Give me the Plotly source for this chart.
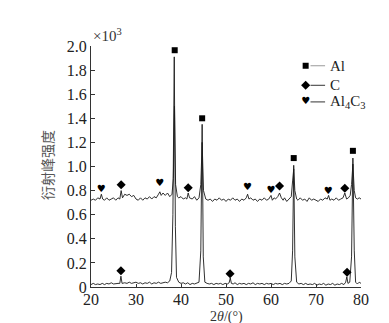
import plotly.graph_objects as go

# ---------------- data (intensity in units of 10^3) ----------------
two_theta_top = [20.0, 20.5, 21.0, 21.5, 22.0, 22.3, 22.6, 23.0, 23.5, 24.0, 24.5, 25.0, 25.5, 26.0, 26.4, 26.7, 27.0,
                 27.5, 28.0, 28.5, 29.0, 29.5, 30.0, 30.5, 31.0, 31.5, 32.0, 32.5, 33.0, 33.5, 34.0, 34.5, 35.0, 35.3,
                 35.6, 36.0, 36.5, 37.0, 37.5, 38.0, 38.3, 38.55, 38.8, 39.2, 39.5, 40.0, 40.5, 41.0, 41.3, 41.6, 41.9,
                 42.5, 43.0, 43.5, 44.0, 44.4, 44.7, 45.0, 45.5, 46.0, 46.5, 47.0, 47.5, 48.0, 48.5, 49.0, 49.5, 50.0,
                 50.5, 51.0, 51.5, 52.0, 52.5, 53.0, 53.5, 54.0, 54.5, 54.8, 55.1, 55.5, 56.0, 56.5, 57.0, 57.5, 58.0,
                 58.5, 59.0, 59.5, 60.0, 60.3, 60.7, 61.0, 61.5, 61.9, 62.3, 62.7, 63.0, 63.5, 64.0, 64.5, 64.8, 65.05,
                 65.3, 65.7, 66.0, 66.5, 67.0, 67.5, 68.0, 68.5, 69.0, 69.5, 70.0, 70.5, 71.0, 71.5, 72.0, 72.5, 72.8,
                 73.1, 73.5, 74.0, 74.5, 75.0, 75.5, 76.0, 76.4, 76.8, 77.2, 77.6, 77.9, 78.2, 78.5, 78.8, 79.2, 79.6,
                 80.0]
intensity_top = [0.72, 0.73, 0.72, 0.74, 0.73, 0.77, 0.73, 0.72, 0.74, 0.72, 0.73, 0.74, 0.72, 0.74, 0.73, 0.80, 0.74,
                 0.77, 0.76, 0.77, 0.75, 0.76, 0.73, 0.72, 0.74, 0.72, 0.74, 0.73, 0.75, 0.73, 0.75, 0.74, 0.77, 0.79,
                 0.76, 0.78, 0.76, 0.78, 0.75, 0.77, 0.90, 1.50, 0.85, 0.75, 0.74, 0.75, 0.73, 0.74, 0.73, 0.78, 0.74,
                 0.73, 0.75, 0.72, 0.74, 0.85, 1.20, 0.80, 0.73, 0.72, 0.73, 0.71, 0.73, 0.72, 0.74, 0.72, 0.73, 0.71,
                 0.73, 0.72, 0.74, 0.72, 0.73, 0.71, 0.73, 0.72, 0.74, 0.77, 0.73, 0.74, 0.72, 0.73, 0.71, 0.73, 0.72,
                 0.74, 0.72, 0.73, 0.76, 0.72, 0.74, 0.73, 0.75, 0.78, 0.74, 0.72, 0.74, 0.71, 0.73, 0.75, 0.88, 0.98,
                 0.80, 0.73, 0.72, 0.74, 0.72, 0.73, 0.71, 0.74, 0.72, 0.73, 0.72, 0.71, 0.73, 0.72, 0.74, 0.73, 0.76,
                 0.72, 0.73, 0.72, 0.74, 0.72, 0.73, 0.74, 0.78, 0.73, 0.74, 0.76, 0.85, 1.02, 0.80, 0.74, 0.73, 0.74,
                 0.73]

two_theta_bottom = [20.0, 20.5, 21.0, 21.5, 22.0, 22.5, 23.0, 23.5, 24.0, 24.5, 25.0, 25.5, 26.0, 26.4, 26.65, 26.9,
                    27.5, 28.0, 28.5, 29.0, 29.5, 30.0, 30.5, 31.0, 31.5, 32.0, 32.5, 33.0, 33.5, 34.0, 34.5, 35.0,
                    35.5, 36.0, 36.5, 37.0, 37.5, 37.9, 38.2, 38.5, 38.75, 39.0, 39.5, 40.0, 40.5, 41.0, 41.5, 42.0,
                    42.5, 43.0, 43.5, 44.0, 44.4, 44.7, 44.95, 45.3, 45.8, 46.3, 46.8, 47.3, 47.8, 48.3, 48.8, 49.3,
                    49.8, 50.3, 50.7, 50.95, 51.2, 51.6, 52.0, 52.5, 53.0, 53.5, 54.0, 54.5, 55.0, 55.5, 56.0, 56.5,
                    57.0, 57.5, 58.0, 58.5, 59.0, 59.5, 60.0, 60.5, 61.0, 61.5, 62.0, 62.5, 63.0, 63.5, 64.0, 64.5,
                    64.8, 65.05, 65.3, 65.7, 66.2, 66.7, 67.2, 67.7, 68.2, 68.7, 69.2, 69.7, 70.2, 70.7, 71.2, 71.7,
                    72.2, 72.7, 73.2, 73.7, 74.2, 74.7, 75.2, 75.7, 76.2, 76.6, 76.85, 77.1, 77.5, 77.9, 78.2, 78.5,
                    78.8, 79.2, 79.6, 80.0]
intensity_bottom = [0.02, 0.03, 0.02, 0.025, 0.02, 0.03, 0.02, 0.03, 0.025, 0.035, 0.025, 0.03, 0.03, 0.03, 0.09, 0.03,
                    0.035, 0.03, 0.04, 0.03, 0.035, 0.04, 0.03, 0.035, 0.025, 0.035, 0.03, 0.04, 0.025, 0.035, 0.03,
                    0.04, 0.03, 0.035, 0.04, 0.035, 0.05, 0.12, 0.60, 1.91, 0.50, 0.08, 0.04, 0.03, 0.035, 0.025,
                    0.035, 0.02, 0.03, 0.025, 0.03, 0.04, 0.30, 1.35, 0.25, 0.04, 0.03, 0.025, 0.03, 0.02, 0.03,
                    0.025, 0.03, 0.02, 0.03, 0.025, 0.035, 0.075, 0.03, 0.025, 0.035, 0.02, 0.03, 0.025, 0.03, 0.02,
                    0.03, 0.025, 0.035, 0.02, 0.03, 0.025, 0.03, 0.02, 0.03, 0.025, 0.03, 0.02, 0.03, 0.025, 0.03,
                    0.02, 0.03, 0.025, 0.03, 0.05, 0.30, 1.01, 0.25, 0.04, 0.025, 0.03, 0.02, 0.03, 0.02, 0.025,
                    0.02, 0.03, 0.015, 0.025, 0.02, 0.03, 0.015, 0.025, 0.02, 0.03, 0.015, 0.025, 0.02, 0.03, 0.02,
                    0.04, 0.085, 0.03, 0.04, 0.25, 1.07, 0.30, 0.04, 0.025, 0.04, 0.03]

al_x = [38.6, 44.7, 65.05, 78.2]
al_y = [1.965, 1.40, 1.07, 1.13]
c_x = [26.7, 41.6, 61.9, 76.4, 26.65, 50.9, 76.9]
c_y = [0.849, 0.824, 0.838, 0.819, 0.135, 0.11, 0.122]
al4c3_x = [22.3, 35.3, 54.8, 60.0, 72.7]
al4c3_y = [0.813, 0.855, 0.827, 0.80, 0.794]

y_ticks = [0, 0.2, 0.4, 0.6, 0.8, 1.0, 1.2, 1.4, 1.6, 1.8, 2.0]
y_tick_labels = ["0", "0.2", "0.4", "0.6", "0.8", "1.0", "1.2", "1.4", "1.6", "1.8", "2.0"]
x_ticks = [20, 30, 40, 50, 60, 70, 80]

legend_names = ["Al", "C", "Al<sub>4</sub>C<sub>3</sub>"]

# ---------------- figure ----------------
SERIF = "Liberation Serif, Times New Roman, serif"
fig = go.Figure()

fig.add_trace(go.Scatter(x=two_theta_bottom, y=intensity_bottom, mode="lines",
                         line=dict(color="#1a1a1a", width=0.9), showlegend=False, hoverinfo="skip"))
fig.add_trace(go.Scatter(x=two_theta_top, y=intensity_top, mode="lines",
                         line=dict(color="#1a1a1a", width=0.9), showlegend=False, hoverinfo="skip"))

fig.add_trace(go.Scatter(x=al_x, y=al_y, mode="markers",
                         marker=dict(symbol="square", size=6, color="black"), showlegend=False))
fig.add_trace(go.Scatter(x=c_x, y=c_y, mode="markers",
                         marker=dict(symbol="diamond", size=7, color="black"), showlegend=False))
fig.add_trace(go.Scatter(x=al4c3_x, y=al4c3_y, mode="text", text=["♥"] * len(al4c3_x),
                         textposition="middle center",
                         textfont=dict(family="DejaVu Sans", size=10, color="black"), showlegend=False))

# custom legend on an overlay axis (0..1 coordinates over the plot area)
leg_x = 0.795
leg_rows = [0.918, 0.837, 0.768]
fig.add_trace(go.Scatter(x=[leg_x], y=[leg_rows[0]], mode="markers", xaxis="x2", yaxis="y2",
                         marker=dict(symbol="square", size=6, color="black"), showlegend=False))
fig.add_trace(go.Scatter(x=[leg_x], y=[leg_rows[1]], mode="markers", xaxis="x2", yaxis="y2",
                         marker=dict(symbol="diamond", size=7, color="black"), showlegend=False))
fig.add_trace(go.Scatter(x=[leg_x], y=[leg_rows[2]], mode="text", text=["♥"], xaxis="x2", yaxis="y2",
                         textposition="middle center",
                         textfont=dict(family="DejaVu Sans", size=10, color="black"), showlegend=False))
line_colors = ["#9a9a9a", "#333333", "#333333"]
for name, ry, lc in zip(legend_names, leg_rows, line_colors):
    fig.add_shape(type="line", xref="paper", yref="paper", x0=0.813, x1=0.867, y0=ry, y1=ry,
                  line=dict(color=lc, width=1))
    fig.add_annotation(xref="paper", yref="paper", x=0.878, y=ry, text=name, showarrow=False,
                       xanchor="left", yanchor="middle", font=dict(family=SERIF, size=15, color="#222"))

fig.add_annotation(xref="paper", yref="paper", x=0.0, y=1.045, text="×10<sup>3</sup>", showarrow=False,
                   xanchor="left", yanchor="middle", font=dict(family=SERIF, size=15, color="#333"))
fig.add_annotation(xref="paper", yref="paper", x=-0.163, y=0.506, text="衍射峰强度", showarrow=False,
                   textangle=-90, xanchor="center", yanchor="middle",
                   font=dict(family="Noto Sans CJK SC", size=14, color="#555"))
fig.add_annotation(xref="paper", yref="paper", x=0.5, y=-0.124, text="2<i>θ</i>/(°)", showarrow=False,
                   xanchor="center", yanchor="middle", borderpad=0,
                   font=dict(family=SERIF, size=14, color="#333"))

fig.update_layout(
    width=389, height=323,
    margin=dict(l=83, r=36, t=38, b=44),
    paper_bgcolor="white", plot_bgcolor="white",
    xaxis=dict(range=[20, 80], tickvals=x_ticks, ticks="inside", ticklen=3, tickcolor="#333",
               ticklabelstandoff=-2,
               showline=True, linecolor="#333", linewidth=1, showgrid=False, zeroline=False,
               tickfont=dict(family=SERIF, size=16, color="#222")),
    yaxis=dict(range=[0, 2.0], tickvals=y_ticks, ticktext=y_tick_labels, ticks="inside", ticklen=4,
               tickcolor="#333", showline=True, linecolor="#333", linewidth=1, showgrid=False,
               zeroline=False, tickfont=dict(family=SERIF, size=16, color="#222")),
    xaxis2=dict(range=[0, 1], overlaying="x", visible=False),
    yaxis2=dict(range=[0, 1], overlaying="y", visible=False),
    showlegend=False,
)

fig.write_html("out.html")
